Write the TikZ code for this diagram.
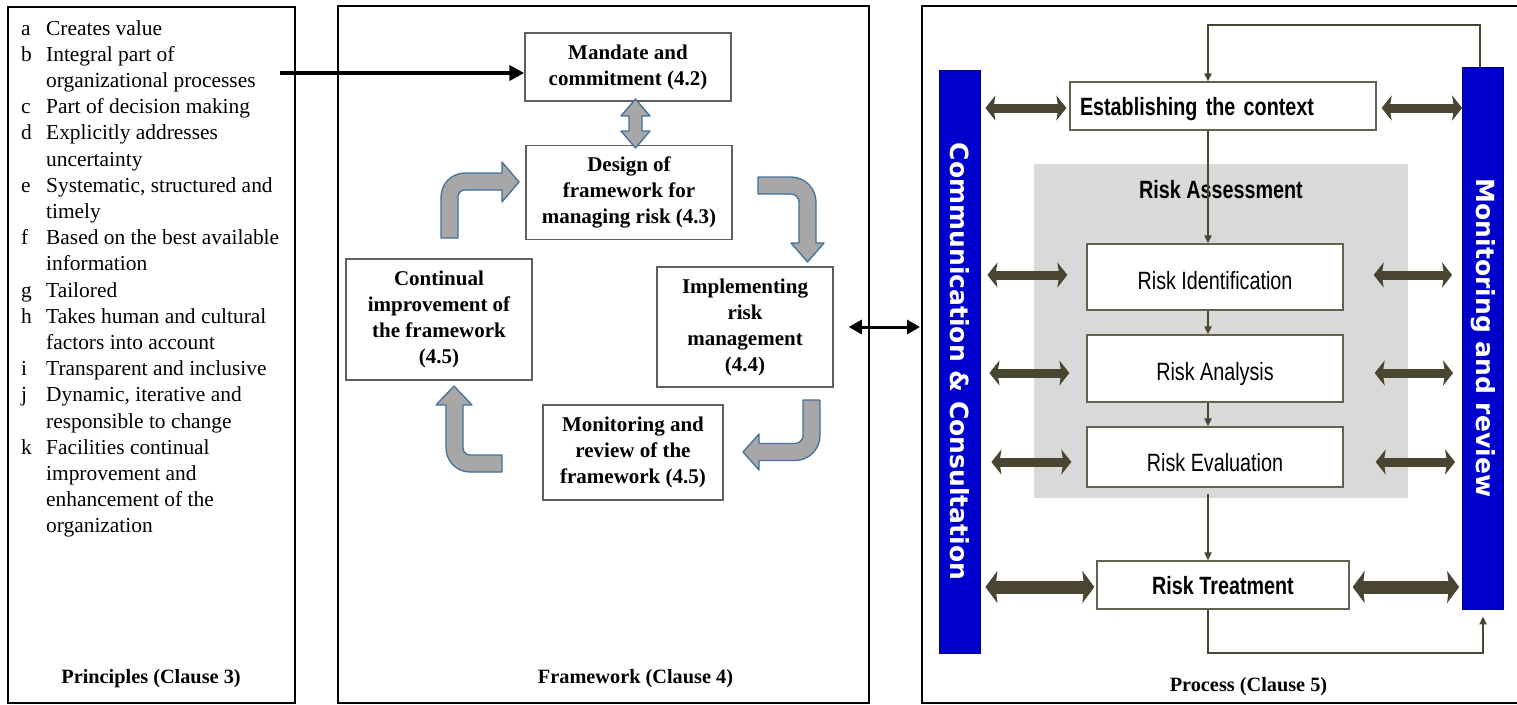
\documentclass[tikz,border=0pt]{standalone}
\usepackage{fontspec}
\setmainfont{Liberation Serif}
\usetikzlibrary{arrows.meta,calc}
\newfontfamily\narrowsans[FakeStretch=0.79]{Liberation Sans}
\newfontfamily\barsans{DejaVu Sans}
\definecolor{olivedk}{RGB}{74,69,48}
\definecolor{barblue}{RGB}{0,0,204}
\definecolor{arrowfill}{RGB}{168,166,166}
\definecolor{arrowedge}{RGB}{65,113,156}
\definecolor{boxedge}{RGB}{95,95,95}
\definecolor{assess}{RGB}{217,217,217}

\begin{document}
\begin{tikzpicture}[x=1pt,y=-1pt,
  panel/.style={draw=black,line width=1.5pt,inner sep=0pt},
  fwbox/.style={draw=boxedge,line width=1.5pt,fill=white,align=center,inner sep=0pt,
    font=\fontsize{21}{26}\selectfont\bfseries},
  caption/.style={font=\fontsize{20.3}{24}\selectfont\bfseries,anchor=base,inner sep=0pt},
  rbox/.style={draw=olivedk!85,line width=1.3pt,fill=white,inner sep=0pt,
    font=\fontsize{25}{28}\selectfont\narrowsans},
  rboldbox/.style={rbox,font=\fontsize{25}{28}\selectfont\narrowsans\bfseries,
    text height=20pt,text depth=2pt},
  bar/.style={fill=barblue,draw=barblue!55!black,line width=0.8pt,minimum width=41pt,inner sep=0pt},
  bartext/.style={text=white,font=\fontsize{25}{28}\selectfont\barsans\bfseries,rotate=-90,inner sep=0pt},
  blockarrow/.style={fill=arrowfill,draw=arrowedge,line width=1.3pt,line join=round},
  flow/.style={draw=olivedk,line width=2pt,-{Triangle[length=8pt,width=7pt]}},
  twoway/.style={draw=olivedk,line width=9pt,
    {Stealth[length=10pt,width=25pt,inset=2pt]}-{Stealth[length=10pt,width=25pt,inset=2pt]}},
  twowaybig/.style={draw=olivedk,line width=13pt,
    {Stealth[length=12pt,width=32pt,inset=2pt]}-{Stealth[length=12pt,width=32pt,inset=2pt]}},
]
\useasboundingbox (0,0) rectangle (1517,704);
\fill[white] (0,0) rectangle (1517,704);

% ---------- three panels ----------
\node[panel,minimum width=287pt,minimum height=696pt] (pp) at (151.5,355) {};
\node[panel,minimum width=531pt,minimum height=697pt] (fp) at (603.5,354.5) {};
% the process panel runs on past the right edge
\draw[black,line width=1.5pt] (1517,6) -- (922,6) -- (922,703) -- (1517,703);
\coordinate (rpwest) at (922,327);

% ---------- principles ----------
\node[anchor=base west,inner sep=0pt,font=\fontsize{21.4}{26.2}\selectfont] (plist) at (21,35) {%
\begin{tabular}[t]{@{}p{25pt}@{}l@{}}
a & Creates value\\
b & Integral part of\\
  & organizational processes\\
c & Part of decision making\\
d & Explicitly addresses\\
  & uncertainty\\
e & Systematic, structured and\\
  & timely\\
f & Based on the best available\\
  & information\\
g & Tailored\\
h & Takes human and cultural\\
  & factors into account\\
i & Transparent and inclusive\\
j & Dynamic, iterative and\\
  & responsible to change\\
k & Facilities continual\\
  & improvement and\\
  & enhancement of the\\
  & organization
\end{tabular}};
\node[caption] (pcap) at (151,683) {Principles (Clause 3)};

% ---------- framework ----------
\node[fwbox,minimum width=206pt,minimum height=68pt] (mandate) at (628,67) {Mandate and\\commitment (4.2)};
\node[fwbox,minimum width=206pt,minimum height=94pt] (design) at (629,192.5) {Design of\\framework for\\managing risk (4.3)};
\node[fwbox,minimum width=186pt,minimum height=121pt] (continual) at (439,319.5) {Continual\\improvement of\\the framework\\(4.5)};
\node[fwbox,minimum width=176pt,minimum height=120pt] (implement) at (745,327) {Implementing\\risk\\management\\(4.4)};
\node[fwbox,minimum width=180pt,minimum height=95pt] (review) at (633,452.5) {Monitoring and\\review of the\\framework (4.5)};
\node[caption] (fcap) at (635.5,683) {Framework (Clause 4)};

% principles feed the mandate
\coordinate (pstart) at (280,73);
\draw[line width=4pt,-{Triangle[length=15pt,width=15pt]}] (pstart) -- (mandate.west |- pstart);

% two-way block arrow mandate <-> design
\draw[blockarrow] (635.5,99) -- (650,116) -- (642,116) -- (642,131) -- (650,131) -- (635.5,148)
  -- (621,131) -- (629,131) -- (629,116) -- (621,116) -- cycle;

% bent arrows of the improvement cycle
\draw[blockarrow] (441,238) -- (441,197) .. controls (441,183.75) and (451.75,173) .. (465,173)
  -- (502,173) -- (502,162) -- (519,182) -- (502,202) -- (502,190) -- (465,190)
  .. controls (461,190) and (458,193) .. (458,197) -- (458,238) -- cycle;
\draw[blockarrow] (758,177) -- (791,177) .. controls (804.8,177) and (816,188.2) .. (816,202)
  -- (816,243) -- (824,243) -- (807.5,262) -- (791,243) -- (799,243) -- (799,202)
  .. controls (799,197.6) and (795.4,194) .. (791,194) -- (758,194) -- cycle;
\draw[blockarrow] (502,472) -- (470,472) .. controls (456.75,472) and (446,461.25) .. (446,448)
  -- (446,405) -- (436,405) -- (454,386) -- (472,405) -- (463,405) -- (463,448)
  .. controls (463,451.9) and (466.1,455) .. (470,455) -- (502,455) -- cycle;
\draw[blockarrow] (803,400) -- (820,400) -- (820,435.5) .. controls (820,449.3) and (808.8,460.5) .. (795,460.5)
  -- (759,460.5) -- (759,470) -- (743,452) -- (759,434) -- (759,443.5) -- (795,443.5)
  .. controls (799.4,443.5) and (803,439.9) .. (803,435.5) -- cycle;

% framework <-> process
\draw[line width=3pt,shorten <=15pt,shorten >=2pt,
  {Triangle[length=13pt,width=14pt]}-{Triangle[length=13pt,width=14pt]}]
  (implement.east) -- (rpwest);

% ---------- process ----------
\node[fill=assess,minimum width=374pt,minimum height=334pt,inner sep=0pt] (assessarea) at (1221,331) {};
\node[anchor=base,inner sep=0pt,font=\fontsize{25}{28}\selectfont\narrowsans\bfseries] (assesslbl) at (1221,198) {Risk Assessment};

\node[bar,minimum height=583pt] (ccbar) at (959.5,361.5) {};
\node[bartext] (cctext) at (ccbar.center) {Communication \& Consultation};
\node[bar,minimum height=542pt] (mrbar) at (1483,338) {};
\node[bartext] (mrtext) at (mrbar.center) {Monitoring and review};

\node[rboldbox,minimum width=306pt,minimum height=48pt,text width=286pt,align=left] (est) at (1223,106) {Establishing the context};
\node[rbox,minimum width=256pt,minimum height=66pt,text height=27pt,text depth=2pt] (ri) at (1215,277) {Risk Identification};
\node[rbox,minimum width=256pt,minimum height=67pt,text height=26pt,text depth=2pt] (ra) at (1215,368.5) {Risk Analysis};
\node[rbox,minimum width=256pt,minimum height=60pt,text height=31pt,text depth=2pt] (re) at (1215,457) {Risk Evaluation};
\node[rboldbox,minimum width=252pt,minimum height=48pt] (rt) at (1223,585) {Risk Treatment};
\node[caption] (rcap) at (1248.5,691) {Process (Clause 5)};

% main flow of the process
\coordinate (fx) at (1208,0);
\coordinate (looptop) at (0,25);
\coordinate (loopbot) at (0,653);
\draw[flow] (est.south -| fx) -- (ri.north -| fx);
\draw[flow] (ri.south -| fx) -- (ra.north -| fx);
\draw[flow] (ra.south -| fx) -- (re.north -| fx);
\draw[flow,shorten <=6pt] (re.south -| fx) -- (rt.north -| fx);
\draw[flow] ([xshift=-3pt]mrbar.north) -- ([xshift=-3pt]mrbar.north |- looptop) -| (est.north -| fx);
\draw[flow,shorten >=7pt] (rt.south -| fx) |- (loopbot -| mrbar.south) -- (mrbar.south);

% communication and monitoring links
\draw[twoway,shorten <=5pt,shorten >=3pt] ([yshift=-2pt]ccbar.east |- est) -- ([yshift=-2pt]est.west);
\draw[twoway,shorten <=5pt] ([yshift=-2pt]est.east) -- ([yshift=-2pt]mrbar.west |- est);
\draw[twoway,shorten <=7pt,shorten >=19pt] ([yshift=2pt]ccbar.east |- ri) -- ([yshift=2pt]ri.west);
\draw[twoway,shorten <=30pt,shorten >=10pt] ([yshift=2pt]ri.east) -- ([yshift=2pt]mrbar.west |- ri);
\draw[twoway,shorten <=9pt,shorten >=17pt] ([yshift=-4.5pt]ccbar.east |- ra) -- ([yshift=-4.5pt]ra.west);
\draw[twoway,shorten <=31pt,shorten >=9pt] ([yshift=-4.5pt]ra.east) -- ([yshift=-4.5pt]mrbar.west |- ra);
\draw[twoway,shorten <=11pt,shorten >=15pt] ([yshift=-5pt]ccbar.east |- re) -- ([yshift=-5pt]re.west);
\draw[twoway,shorten <=32pt,shorten >=7pt] ([yshift=-5pt]re.east) -- ([yshift=-5pt]mrbar.west |- re);
\draw[twowaybig,shorten <=5pt,shorten >=2pt] ([yshift=-2pt]ccbar.east |- rt) -- ([yshift=-2pt]rt.west);
\draw[twowaybig,shorten <=3pt,shorten >=3pt] ([yshift=-2pt]rt.east) -- ([yshift=-2pt]mrbar.west |- rt);
\end{tikzpicture}
\end{document}
